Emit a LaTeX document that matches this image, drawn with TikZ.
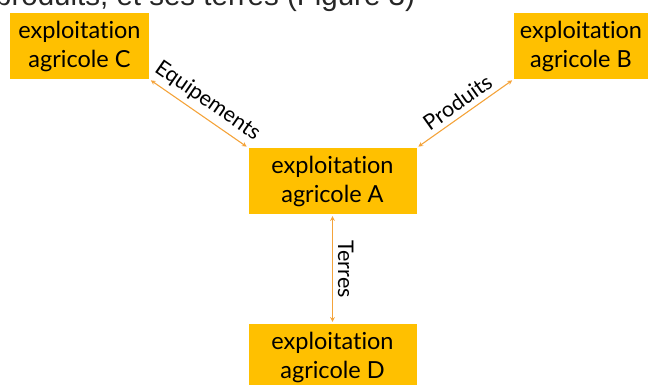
\documentclass[tikz,border=0pt]{standalone}
\usepackage{fontspec}
\setmainfont{Lato}[RawFeature={-liga}]
\newfontfamily\headfont{Liberation Sans}
\usetikzlibrary{arrows}

\definecolor{farmgold}{HTML}{FFC000}
\definecolor{linkorange}{HTML}{F4A33A}

\tikzset{
  farm/.style = {fill=farmgold, align=center, minimum height=66pt, inner sep=0pt,
                 font=\fontsize{23.5}{29}\selectfont},
  link/.style = {<->, >=stealth, linkorange, line width=1.1pt, shorten >=2pt, shorten <=2pt},
  flow/.style = {sloped, above, text=black, inner sep=5pt, font=\fontsize{21.5}{24}\selectfont}
}

\begin{document}
\begin{tikzpicture}[x=1pt, y=-1pt]
        \useasboundingbox (0,0) rectangle (651,385);
        % caption line cut by the frame
        \node [anchor=base west, inner sep=0pt, text=black!85,
               font=\headfont\fontsize{29.5}{36}\selectfont] (head) at (-5,6)
              {produits, et ses terres (Figure 3)};
        % the four farms
        \node [farm, minimum width=139pt] (C) at (79.5,46) {exploitation\\agricole C};
        \node [farm, minimum width=134pt] (B) at (581,46) {exploitation\\agricole B};
        \node [farm, minimum width=168pt] (A) at (332.5,181) {exploitation\\agricole A};
        \node [farm, minimum width=168pt] (D) at (332.5,357) {exploitation\\agricole D};
        % exchanges
        \draw [link] (C.south east) -- node [flow] {Equipements} (A.north west);
        \draw [link] (A.north east) -- node [flow] {Produits} (B.south west);
        \draw [link] (A.south) -- node [flow] {Terres} (D.north);
      \end{tikzpicture}
\end{document}
